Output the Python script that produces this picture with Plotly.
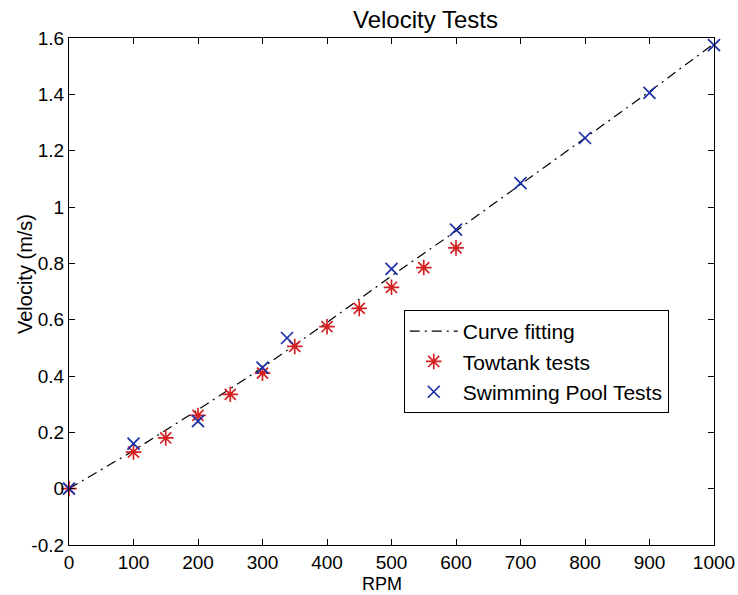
import plotly.graph_objects as go

# Data
fit_rpm = [0, 100, 200, 300, 400, 500, 600, 700, 800, 900, 1000]
fit_vel = [0.0, 0.135, 0.28, 0.43, 0.59, 0.755, 0.915, 1.08, 1.245, 1.41, 1.58]

tow_rpm = [0, 100, 150, 200, 250, 300, 350, 400, 450, 500, 550, 600]
tow_vel = [0.0, 0.13, 0.18, 0.26, 0.335, 0.41, 0.505, 0.575, 0.64, 0.715, 0.785, 0.855]

pool_rpm = [0, 100, 200, 300, 338, 500, 600, 700, 800, 900, 1000]
pool_vel = [0.0, 0.16, 0.24, 0.43, 0.535, 0.78, 0.92, 1.085, 1.245, 1.405, 1.575]

x_ticks = [0, 100, 200, 300, 400, 500, 600, 700, 800, 900, 1000]
y_ticks = [-0.2, 0, 0.2, 0.4, 0.6, 0.8, 1.0, 1.2, 1.4, 1.6]
y_tick_text = ["-0.2", "0", "0.2", "0.4", "0.6", "0.8", "1", "1.2", "1.4", "1.6"]

FONT = "Liberation Sans, Arial, Helvetica, sans-serif"

fig = go.Figure()
fig.add_trace(go.Scatter(
    x=fit_rpm, y=fit_vel, mode="lines", name="Curve fitting",
    line=dict(color="black", width=1.2, dash="10px,5px,2px,5px"),
    cliponaxis=False,
))
fig.add_trace(go.Scatter(
    x=tow_rpm, y=tow_vel, mode="markers", name="Towtank tests",
    marker=dict(symbol="asterisk-open", size=13, color="#d42020",
                line=dict(color="#d42020", width=1.7)),
    cliponaxis=False,
))
fig.add_trace(go.Scatter(
    x=pool_rpm, y=pool_vel, mode="markers", name="Swimming Pool Tests",
    marker=dict(symbol="x-thin-open", size=12, color="#1a2fa8",
                line=dict(color="#1a2fa8", width=1.7)),
    cliponaxis=False,
))

axis_common = dict(
    showgrid=False, zeroline=False, showline=True, linecolor="black",
    linewidth=1.2, mirror="ticks", ticks="inside", ticklen=6,
    tickcolor="black", tickwidth=1, automargin=False,
    tickfont=dict(family=FONT, size=19, color="black"),
)

fig.update_xaxes(range=[0, 1000], tickvals=x_ticks,
                 ticktext=[str(v) for v in x_ticks], **axis_common)
fig.update_yaxes(range=[-0.2, 1.6], tickvals=y_ticks, ticktext=y_tick_text,
                 **axis_common)

fig.update_layout(
    width=738, height=595,
    margin=dict(l=69, r=24, t=38, b=50),
    plot_bgcolor="white", paper_bgcolor="white",
    font=dict(family=FONT, color="black"),
    showlegend=True,
    legend=dict(
        x=0.519, y=0.4635, xanchor="left", yanchor="top",
        bgcolor="white", bordercolor="black", borderwidth=1,
        font=dict(family=FONT, size=21, color="black"),
        tracegroupgap=0, itemwidth=48,
    ),
    annotations=[
        dict(text="Velocity Tests", xref="paper", yref="paper",
             x=(425 - 69) / 645, y=1, yshift=3, xanchor="center", yanchor="bottom",
             showarrow=False, font=dict(family=FONT, size=24, color="black")),
        dict(text="RPM", xref="paper", yref="paper",
             x=(382 - 69) / 645, y=0, yshift=-27, xanchor="center", yanchor="top",
             showarrow=False, font=dict(family=FONT, size=18, color="black")),
        dict(text="Velocity (m/s)", xref="paper", yref="paper",
             x=0, xshift=-44, y=(545 - 274) / 507, xanchor="center", yanchor="middle",
             textangle=-90, showarrow=False,
             font=dict(family=FONT, size=20, color="black")),
    ],
)

fig.write_html("out.html")
